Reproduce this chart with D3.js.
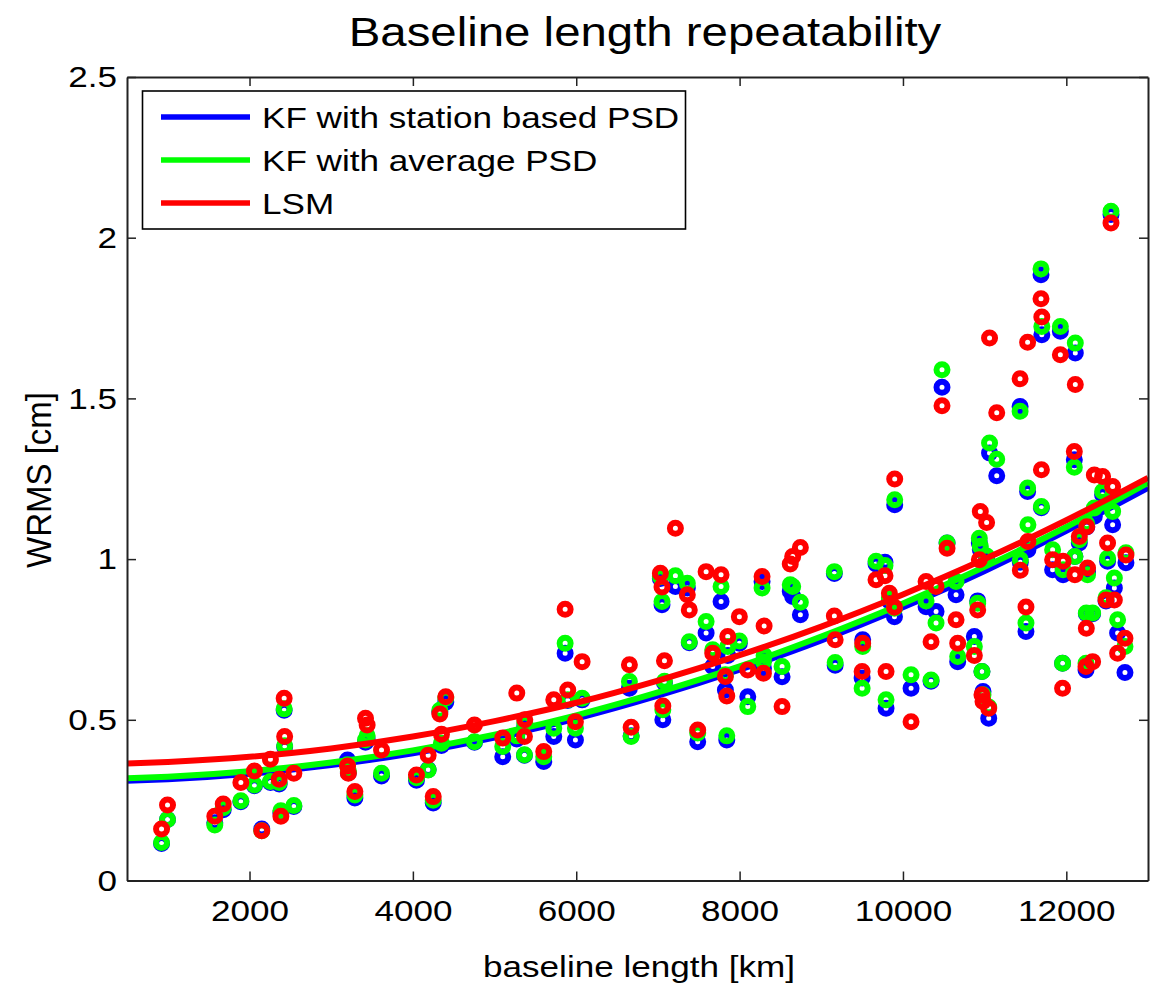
<!DOCTYPE html>
<html>
<head>
<meta charset="utf-8">
<script src="https://cdn.jsdelivr.net/npm/d3@7"></script>
<style>
  body { margin: 0; background: #fff; }
  text { font-family: "Liberation Sans", Arial, sans-serif; fill: #000; }
</style>
</head>
<body>
<main></main>
<script>
// baseline lengths [km] and WRMS [cm] for the three solutions
const baseline = [923, 996, 1575, 1678, 1894, 2060, 2150, 2256, 2363, 2384, 2424, 2430, 2543,
  3200, 3210, 3290, 3420, 3440, 3616, 4044, 4187, 4249, 4330, 4350, 4403, 4754,
  5100, 5272, 5366, 5370, 5602, 5725, 5864, 5896, 5990, 6072, 6651, 6672,
  7030, 7050, 7080, 7060, 7214, 7360, 7384, 7487, 7590, 7671, 7773, 7826, 7843, 7855, 7997,
  8100, 8275, 8292, 8300, 8520, 8620, 8650, 8744, 9160, 9170, 9507, 9500, 9670, 9780, 9793,
  9834, 9896, 9899, 10099, 10283, 10344, 10405, 10478, 10540, 10650, 10670, 10874, 10915,
  10935, 10947, 11024, 10967, 10980, 11050, 11060, 11148, 11434, 11437, 11506, 11526, 11530,
  11690, 11700, 11695, 11832, 11927, 11954, 11960, 12098, 12110, 12105, 12159, 12241, 12245,
  12260, 12250, 12322, 12343, 12444, 12486, 12505, 12547, 12567, 12588, 12628, 12718, 12730];

const kfStation = [0.115, 0.19, 0.18, 0.22, 0.245, 0.295, 0.16, 0.305, 0.30, 0.21, 0.53, 0.415, 0.23,
  0.375, 0.335, 0.257, 0.43, 0.44, 0.325, 0.312, 0.345, 0.241, 0.525, 0.42, 0.555, 0.43,
  0.385, 0.44, 0.39, 0.48, 0.37, 0.448, 0.707, 0.56, 0.437, 0.562, 0.598, 0.45,
  0.94, 0.858, 0.615, 0.50, 0.915, 0.91, 0.74, 0.432, 0.77, 0.666, 0.868, 0.593, 0.437, 0.70, 0.738,
  0.572, 0.93, 0.66, 0.69, 0.634, 0.90, 0.884, 0.827, 0.955, 0.67, 0.749, 0.63, 0.985, 0.99, 0.536,
  0.87, 0.821, 1.169, 0.598, 0.852, 0.62, 0.837, 1.535, 1.05, 0.889, 0.681, 0.759, 0.87,
  1.05, 1.03, 1.0, 0.65, 0.588, 0.505, 1.33, 1.259, 1.475, 0.99, 0.775, 1.21, 1.029,
  1.885, 1.698, 1.16, 0.967, 1.709, 0.676, 0.951, 1.309, 1.641, 1.008, 1.05, 0.655, 0.83,
  0.96, 1.10, 0.83, 1.133, 1.20, 0.87, 0.993, 2.072, 1.107, 0.91, 0.77, 0.647, 0.989];

const kfAverage = [0.118, 0.19, 0.173, 0.226, 0.248, 0.297, 0.155, 0.308, 0.305, 0.217, 0.534, 0.419, 0.233,
  0.36, 0.34, 0.266, 0.437, 0.45, 0.334, 0.32, 0.344, 0.25, 0.53, 0.427, 0.568, 0.432,
  0.417, 0.45, 0.391, 0.49, 0.385, 0.474, 0.738, 0.562, 0.474, 0.567, 0.619, 0.448,
  0.945, 0.868, 0.62, 0.531, 0.948, 0.925, 0.743, 0.459, 0.806, 0.718, 0.915, 0.64, 0.45, 0.728, 0.745,
  0.541, 0.91, 0.681, 0.70, 0.666, 0.92, 0.915, 0.866, 0.961, 0.678, 0.728, 0.598, 0.993, 0.98, 0.562,
  0.88, 0.847, 1.185, 0.64, 0.87, 0.624, 0.801, 1.589, 1.05, 0.93, 0.697, 0.728, 0.863,
  1.065, 1.04, 1.01, 0.65, 0.578, 0.54, 1.361, 1.311, 1.46, 0.998, 0.801, 1.221, 1.107,
  1.903, 1.724, 1.164, 1.029, 1.724, 0.676, 0.967, 1.286, 1.672, 1.008, 1.06, 0.676, 0.832,
  0.951, 1.11, 0.832, 1.159, 1.21, 0.88, 1.003, 2.082, 1.148, 0.941, 0.811, 0.728, 1.02];

const lsm = [0.16, 0.235, 0.20, 0.238, 0.305, 0.341, 0.155, 0.377, 0.315, 0.20, 0.567, 0.448, 0.334,
  0.356, 0.334, 0.277, 0.505, 0.484, 0.406, 0.328, 0.39, 0.261, 0.518, 0.455, 0.572, 0.484,
  0.443, 0.583, 0.448, 0.50, 0.401, 0.562, 0.844, 0.593, 0.494, 0.681, 0.671, 0.477,
  0.956, 0.913, 0.684, 0.543, 1.096, 0.889, 0.842, 0.468, 0.961, 0.707, 0.951, 0.635, 0.574, 0.759, 0.821,
  0.655, 0.946, 0.645, 0.792, 0.541, 0.985, 1.008, 1.036, 0.823, 0.749, 0.738, 0.65, 0.936, 0.948, 0.65,
  0.894, 0.85, 1.249, 0.494, 0.93, 0.743, 0.915, 1.477, 1.034, 0.811, 0.738, 0.70, 0.842,
  0.998, 1.148, 1.114, 0.578, 0.557, 0.536, 1.688, 1.455, 1.561, 0.965, 0.851, 1.675, 1.055,
  1.81, 1.753, 1.278, 0.998, 1.636, 0.598, 0.993, 1.335, 1.543, 0.951, 1.07, 0.666, 0.785,
  0.972, 1.101, 0.681, 1.262, 1.257, 0.873, 1.05, 2.046, 1.226, 0.873, 0.707, 0.754, 1.013];

// fitted curves
const fitX = [500, 1000, 2000, 3000, 4000, 5000, 6000, 7000, 8000, 9000, 10000, 11000, 12000, 13000];
const fitStation = [0.31, 0.315, 0.332, 0.359, 0.396, 0.445, 0.504, 0.575, 0.656, 0.747, 0.85, 0.963, 1.088, 1.222];
const fitAverage = [0.318, 0.323, 0.34, 0.367, 0.405, 0.454, 0.514, 0.585, 0.666, 0.759, 0.862, 0.976, 1.1, 1.237];
const fitLSM = [0.364, 0.369, 0.385, 0.411, 0.448, 0.496, 0.553, 0.622, 0.701, 0.79, 0.89, 1.0, 1.121, 1.253];

const xTicks = [2000, 4000, 6000, 8000, 10000, 12000];
const yTicks = [0, 0.5, 1, 1.5, 2, 2.5];

const seriesNames = ['KF with station based PSD', 'KF with average PSD', 'LSM'];
const seriesColors = ['#0000ff', '#00ff00', '#ff0000'];

const W = 1158, H = 989;
const plotLeft = 127, plotRight = 1148, plotTop = 77, plotBottom = 880.5;
const sx = 1.17; // text in the figure is a bit wider than Arial

const xScale = d3.scaleLinear().domain([500, 13000]).range([plotLeft, plotRight]);
const yScale = d3.scaleLinear().domain([0, 2.5]).range([plotBottom, plotTop]);

const svg = d3.select('main').append('svg')
  .attr('width', W)
  .attr('height', H);

svg.append('defs').append('clipPath')
  .attr('id', 'plot-clip')
  .append('rect')
  .attr('x', plotLeft).attr('y', plotTop)
  .attr('width', plotRight - plotLeft).attr('height', plotBottom - plotTop);

// widen a text element horizontally around its anchor point
const stretch = (sel, ax, ay) => sel.attr('transform', `translate(${ax},${ay}) scale(${sx},1)`);

// title
svg.append('text')
  .attr('text-anchor', 'middle')
  .attr('font-size', 40.5)
  .call(stretch, 645, 46)
  .text('Baseline length repeatability');

const plot = svg.append('g').attr('clip-path', 'url(#plot-clip)');

const line = d3.line()
  .x((d, i) => xScale(fitX[i]))
  .y(d => yScale(d))
  .curve(d3.curveMonotoneX);

const series = [kfStation, kfAverage, lsm];
const fits = [fitStation, fitAverage, fitLSM];

series.forEach((vals, k) => {
  plot.append('g')
    .selectAll('circle')
    .data(vals)
    .enter()
    .append('circle')
    .attr('cx', (d, i) => xScale(baseline[i]))
    .attr('cy', d => yScale(d))
    .attr('r', 5.5)
    .attr('fill', 'none')
    .attr('stroke', seriesColors[k])
    .attr('stroke-width', 6);

  plot.append('path')
    .datum(fits[k])
    .attr('d', line)
    .attr('fill', 'none')
    .attr('stroke', seriesColors[k])
    .attr('stroke-width', 6);
});

// axes box with inward ticks on all four sides
const xAxis = d3.axisBottom(xScale).tickValues(xTicks).tickSizeInner(-9).tickSizeOuter(0).tickPadding(19)
  .tickFormat(d3.format('d'));
const yAxis = d3.axisLeft(yScale).tickValues(yTicks).tickSizeInner(-9).tickSizeOuter(0).tickPadding(10)
  .tickFormat(d => String(d));

const gx = svg.append('g')
  .attr('transform', `translate(0,${plotBottom})`)
  .call(xAxis);
const gy = svg.append('g')
  .attr('transform', `translate(${plotLeft},0)`)
  .call(yAxis);

svg.append('g')
  .attr('transform', `translate(0,${plotTop})`)
  .call(d3.axisTop(xScale).tickValues(xTicks).tickSizeInner(-9).tickSizeOuter(0).tickFormat(''));
svg.append('g')
  .attr('transform', `translate(${plotRight},0)`)
  .call(d3.axisRight(yScale).tickValues(yTicks).tickSizeInner(-9).tickSizeOuter(0).tickFormat(''));

svg.selectAll('.domain').attr('stroke', '#222').attr('stroke-width', 2);
svg.selectAll('.tick line').attr('stroke', '#222').attr('stroke-width', 1.5);

gx.selectAll('.tick text')
  .attr('font-size', 30)
  .attr('font-family', '"Liberation Sans", Arial, sans-serif')
  .attr('fill', '#000')
  .attr('transform', `scale(${sx},1)`);
gy.selectAll('.tick text')
  .attr('font-size', 30)
  .attr('font-family', '"Liberation Sans", Arial, sans-serif')
  .attr('fill', '#000')
  .attr('x', -10 / sx)
  .attr('transform', `scale(${sx},1)`);

// axis labels
svg.append('text')
  .attr('text-anchor', 'middle')
  .attr('font-size', 30)
  .call(stretch, 639, 977)
  .text('baseline length [km]');

svg.append('text')
  .attr('text-anchor', 'middle')
  .attr('font-size', 33)
  .attr('transform', `translate(51,480) rotate(-90) scale(1,1.08)`)
  .text('WRMS [cm]');

// legend
const legend = svg.append('g');
legend.append('rect')
  .attr('x', 142.5).attr('y', 91)
  .attr('width', 543).attr('height', 138)
  .attr('fill', '#fff')
  .attr('stroke', '#000')
  .attr('stroke-width', 1.6);

seriesNames.forEach((name, k) => {
  const ly = 117 + k * 43;
  legend.append('line')
    .attr('x1', 161).attr('x2', 250)
    .attr('y1', ly).attr('y2', ly)
    .attr('stroke', seriesColors[k])
    .attr('stroke-width', 5.5);
  legend.append('text')
    .attr('font-size', 30)
    .call(stretch, 262, ly + 10.5)
    .text(name);
});
</script>
</body>
</html>
